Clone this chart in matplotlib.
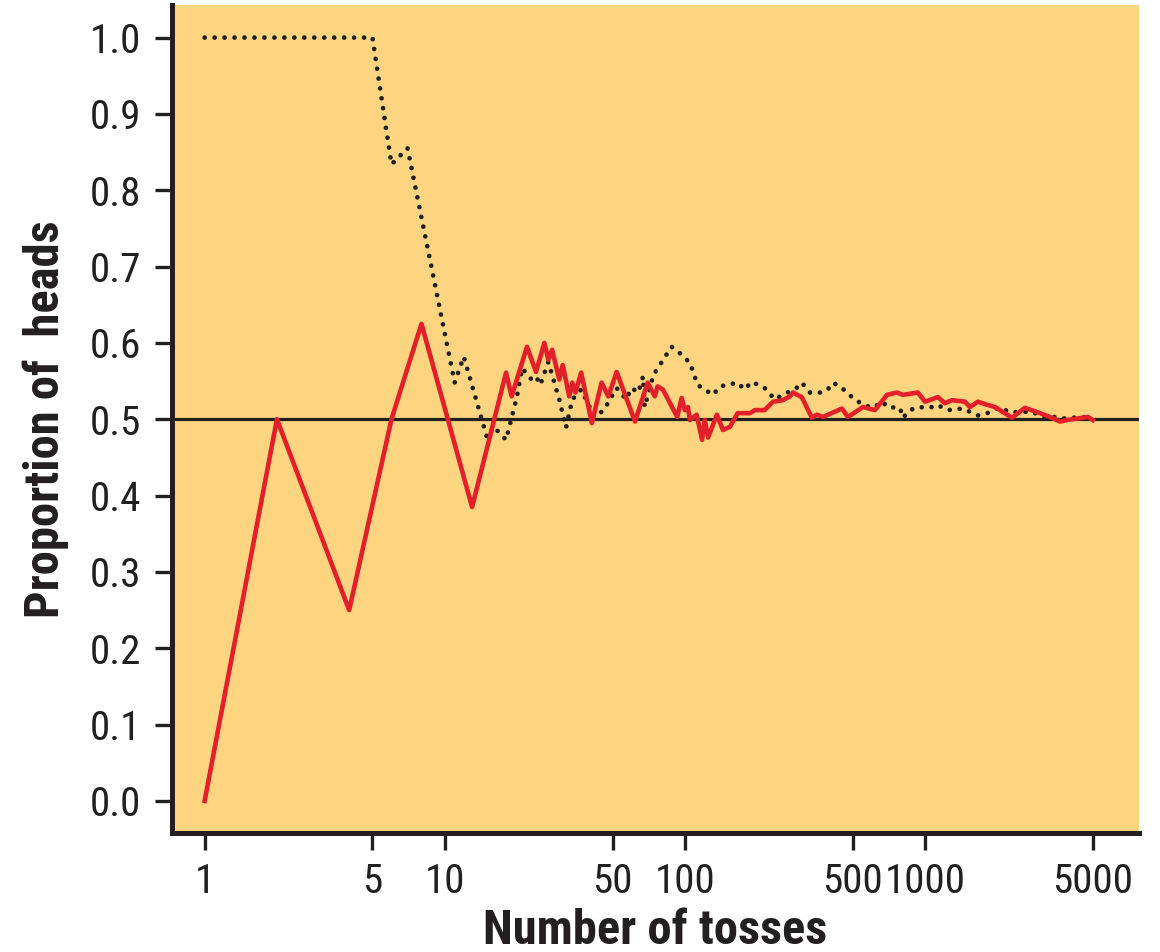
import numpy as np
from matplotlib import pyplot as plt
from matplotlib import font_manager

# running proportion of heads, two series of coin tosses
red_n = [1, 2, 4, 6, 8, 13, 18, 19, 22, 24, 26, 27, 28, 30, 31, 33, 34, 35, 37,
         41, 45, 48, 52, 62, 70, 75, 77, 81, 93, 97, 100, 103, 105, 112, 118,
         121, 125, 136, 144, 154, 166, 187, 196, 215, 233, 256, 274, 282, 307,
         338, 355, 376, 451, 478, 552, 619, 695, 764, 810, 935, 1000, 1133,
         1211, 1296, 1468, 1540, 1663, 1813, 1958, 2305, 2610, 3014, 3317,
         3652, 3906, 4775, 5000]
red_p = [0.0, 0.5, 0.25, 0.5, 0.625, 0.385, 0.561, 0.53, 0.595, 0.562, 0.600,
         0.578, 0.591, 0.552, 0.571, 0.530, 0.548, 0.535, 0.561, 0.495, 0.548,
         0.530, 0.562, 0.497, 0.548, 0.530, 0.543, 0.539, 0.503, 0.528, 0.512,
         0.516, 0.499, 0.506, 0.473, 0.499, 0.476, 0.506, 0.486, 0.490, 0.508,
         0.508, 0.512, 0.512, 0.523, 0.525, 0.530, 0.535, 0.529, 0.502, 0.506,
         0.503, 0.514, 0.503, 0.516, 0.512, 0.532, 0.535, 0.532, 0.535, 0.523,
         0.529, 0.521, 0.525, 0.523, 0.516, 0.523, 0.519, 0.516, 0.502, 0.515,
         0.508, 0.503, 0.497, 0.499, 0.503, 0.499]

black_n = [1, 2, 3, 4, 5, 6, 7, 11, 12, 15, 16, 18, 20, 21, 23, 24, 25, 27, 30,
           32, 34, 37, 42, 46, 50, 52, 57, 60, 64, 67, 68, 74, 88, 95, 105, 113,
           131, 140, 166, 177, 190, 215, 237, 256, 292, 307, 332, 372, 394, 414,
           451, 501, 552, 607, 668, 695, 787, 810, 866, 935, 1049, 1122, 1247,
           1439, 1663, 1866, 2014, 2305, 2536, 2818, 3224, 3482, 3758, 4137,
           4775, 5000]
black_p = [1.0, 1.0, 1.0, 1.0, 1.0, 0.834, 0.855, 0.548, 0.582, 0.476, 0.490,
           0.473, 0.530, 0.567, 0.552, 0.556, 0.545, 0.575, 0.526, 0.489, 0.526,
           0.539, 0.503, 0.512, 0.532, 0.541, 0.526, 0.541, 0.535, 0.556, 0.516,
           0.558, 0.595, 0.587, 0.574, 0.545, 0.532, 0.543, 0.548, 0.539, 0.549,
           0.541, 0.526, 0.532, 0.541, 0.548, 0.535, 0.535, 0.539, 0.548, 0.541,
           0.528, 0.519, 0.515, 0.523, 0.516, 0.515, 0.502, 0.512, 0.516, 0.515,
           0.519, 0.512, 0.514, 0.505, 0.509, 0.515, 0.509, 0.510, 0.509, 0.502,
           0.503, 0.501, 0.502, 0.503, 0.501]

xticks = [1, 5, 10, 50, 100, 500, 1000, 5000]
yticks = [0.0, 0.1, 0.2, 0.3, 0.4, 0.5, 0.6, 0.7, 0.8, 0.9, 1.0]

# pick a narrow family if one is around
installed = {f.name for f in font_manager.fontManager.ttflist}
font = [f for f in ['Roboto Condensed', 'Open Sans Condensed',
                    'Noto Sans Condensed', 'Liberation Sans Narrow',
                    'Roboto'] if f in installed] + ['DejaVu Sans']
plt.rcParams['font.family'] = font

fig = plt.figure(figsize=(11.6, 9.52), dpi=100)
ax = fig.add_axes([0.148, 0.125, 0.834, 0.870])
ax.set_facecolor('#FDD580')

ax.axhline(0.5, color='#231F20', lw=2.3, zorder=1)
ax.plot(black_n, black_p, color='#231F20', lw=3.4,
        linestyle=(0, (0.01, 2.1)), dash_capstyle='round', zorder=2)
ax.plot(red_n, red_p, color='#E3202A', lw=3.3, zorder=3)

ax.set_xscale('log')
ax.set_xlim(0.729, 7800)
ax.set_ylim(-0.042, 1.043)
ax.set_xticks(xticks)
ax.set_xticklabels([str(t) for t in xticks])
ax.minorticks_off()
ax.set_yticks(yticks)
ax.set_yticklabels([f'{t:.1f}' for t in yticks])

for side in ('top', 'right'):
    ax.spines[side].set_visible(False)
for side in ('left', 'bottom'):
    ax.spines[side].set_linewidth(3.6)
    ax.spines[side].set_color('#231F20')

ax.tick_params(axis='both', length=12, width=2.4, color='#231F20',
               labelsize=29.5, labelcolor='#231F20')
ax.tick_params(axis='y', pad=10)
ax.tick_params(axis='x', pad=9)

ax.set_xlabel('Number of tosses', fontsize=35, fontweight='bold',
              color='#231F20', labelpad=5)
ax.set_ylabel('Proportion of  heads', fontsize=35, fontweight='bold',
              color='#231F20', labelpad=15)

fig.savefig('out.png', dpi=100, facecolor='white')
